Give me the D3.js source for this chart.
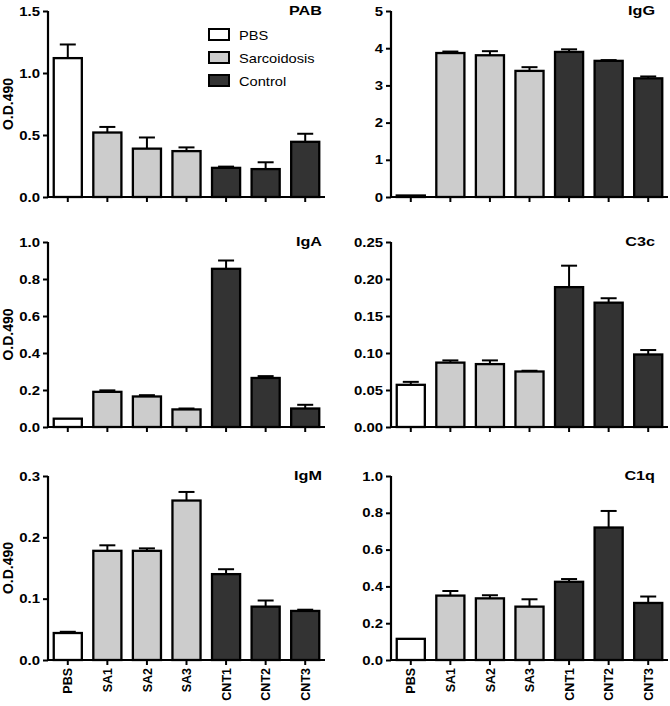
<!DOCTYPE html>
<html>
<head>
<meta charset="utf-8">
<script src="https://cdn.jsdelivr.net/npm/d3@7"></script>
<style>
  html, body { margin: 0; padding: 0; background: #fff; }
  svg { display: block; font-family: "Liberation Sans", Arial, Helvetica, sans-serif; }
</style>
</head>
<body>
<svg id="chart" width="670" height="706"></svg>
<script>
// ---- data ----
const categories = ["PBS", "SA1", "SA2", "SA3", "CNT1", "CNT2", "CNT3"];
const groupOf = ["PBS", "Sarcoidosis", "Sarcoidosis", "Sarcoidosis", "Control", "Control", "Control"];
const legendLabels = ["PBS", "Sarcoidosis", "Control"];

const pabMean = [1.12, 0.52, 0.39, 0.37, 0.235, 0.225, 0.445];
const pabSem  = [0.11, 0.045, 0.09, 0.03, 0.01, 0.055, 0.065];
const igGMean = [0.04, 3.87, 3.81, 3.39, 3.90, 3.66, 3.19];
const igGSem  = [0.0, 0.04, 0.11, 0.10, 0.07, 0.02, 0.05];
const igAMean = [0.045, 0.19, 0.165, 0.095, 0.855, 0.265, 0.10];
const igASem  = [0.0, 0.008, 0.007, 0.005, 0.045, 0.01, 0.02];
const c3cMean = [0.057, 0.087, 0.085, 0.075, 0.189, 0.168, 0.098];
const c3cSem  = [0.004, 0.003, 0.005, 0.001, 0.029, 0.006, 0.006];
const igMMean = [0.044, 0.178, 0.178, 0.26, 0.14, 0.087, 0.08];
const igMSem  = [0.002, 0.009, 0.004, 0.014, 0.008, 0.01, 0.002];
const c1qMean = [0.115, 0.35, 0.335, 0.29, 0.425, 0.72, 0.31];
const c1qSem  = [0.0, 0.025, 0.017, 0.04, 0.015, 0.09, 0.035];

const pabTicks = [0, 0.5, 1.0, 1.5];
const igGTicks = [0, 1, 2, 3, 4, 5];
const igATicks = [0, 0.2, 0.4, 0.6, 0.8, 1.0];
const c3cTicks = [0, 0.05, 0.10, 0.15, 0.20, 0.25];
const igMTicks = [0, 0.1, 0.2, 0.3];
const c1qTicks = [0, 0.2, 0.4, 0.6, 0.8, 1.0];

const yLabel = "O.D.490";

// ---- styles / layout ----
const fills = { "PBS": "#ffffff", "Sarcoidosis": "#cccccc", "Control": "#333333" };
const colX = [48, 391];          // y-axis positions
const bandWidth = 277;
const rows = [[11, 197], [242, 427], [476, 660]];
const titleRight = [322, 655];

const panels = [
  { title: "PAB", mean: pabMean, sem: pabSem, ticks: pabTicks, fmt: ".1f", col: 0, row: 0, yLab: true, legend: true },
  { title: "IgG", mean: igGMean, sem: igGSem, ticks: igGTicks, fmt: "d",   col: 1, row: 0 },
  { title: "IgA", mean: igAMean, sem: igASem, ticks: igATicks, fmt: ".1f", col: 0, row: 1, yLab: true },
  { title: "C3c", mean: c3cMean, sem: c3cSem, ticks: c3cTicks, fmt: ".2f", col: 1, row: 1 },
  { title: "IgM", mean: igMMean, sem: igMSem, ticks: igMTicks, fmt: ".1f", col: 0, row: 2, yLab: true, xLabels: true },
  { title: "C1q", mean: c1qMean, sem: c1qSem, ticks: c1qTicks, fmt: ".1f", col: 1, row: 2, xLabels: true }
];

const svg = d3.select("#chart");
const SX = 1.15; // horizontal text stretch seen in the reference

panels.forEach(p => {
  const x0 = colX[p.col];
  const [top, bottom] = rows[p.row];
  const x = d3.scaleBand().domain(categories).range([x0, x0 + bandWidth]).paddingInner(0.29).paddingOuter(0.145);
  const yMax = p.ticks[p.ticks.length - 1];
  const y = d3.scaleLinear().domain([0, yMax]).range([bottom, top]);
  const g = svg.append("g");

  const data = categories.map((c, i) => ({ c, m: p.mean[i], s: p.sem[i], grp: groupOf[i] }));

  // error bars (upper only)
  const capW = 16;
  data.forEach(d => {
    if (d.s > 0) {
      const cx = x(d.c) + x.bandwidth() / 2;
      g.append("line").attr("x1", cx).attr("x2", cx).attr("y1", y(d.m)).attr("y2", y(d.m + d.s))
        .attr("stroke", "#000").attr("stroke-width", 2);
      g.append("line").attr("x1", cx - capW / 2).attr("x2", cx + capW / 2).attr("y1", y(d.m + d.s)).attr("y2", y(d.m + d.s))
        .attr("stroke", "#000").attr("stroke-width", 2);
    }
  });

  // bars
  g.selectAll("rect.bar").data(data).join("rect").attr("class", "bar")
    .attr("x", d => x(d.c)).attr("width", x.bandwidth())
    .attr("y", d => y(d.m)).attr("height", d => y(0) - y(d.m))
    .attr("fill", d => fills[d.grp]).attr("stroke", "#000").attr("stroke-width", 2.3);

  // y axis
  const yAxis = d3.axisLeft(y).tickValues(p.ticks).tickSize(5).tickPadding(3)
    .tickFormat(p.fmt === "d" ? d3.format("d") : d3.format(p.fmt));
  const ya = g.append("g").attr("transform", `translate(${x0},0)`).call(yAxis);
  ya.select(".domain").attr("stroke", "#000").attr("stroke-width", 2.2).attr("d", `M0,${top}V${bottom}`);
  ya.selectAll(".tick line").attr("stroke", "#000").attr("stroke-width", 2);
  ya.selectAll(".tick text").attr("font-size", 13).attr("font-weight", "bold").attr("fill", "#000")
    .attr("font-family", '"Liberation Sans", Arial, sans-serif')
    .each(function () {
      const t = d3.select(this);
      const xx = +t.attr("x");
      t.attr("x", null).attr("transform", `translate(${xx},0) scale(${SX},1)`);
    });

  // x axis
  const xAxis = d3.axisBottom(x).tickSize(5).tickFormat("");
  const xa = g.append("g").attr("transform", `translate(0,${bottom})`).call(xAxis);
  xa.select(".domain").attr("stroke", "#000").attr("stroke-width", 2.2).attr("d", `M${x0},0H${x0 + bandWidth}`);
  xa.selectAll(".tick line").attr("stroke", "#000").attr("stroke-width", 2);

  if (p.xLabels) {
    categories.forEach(c => {
      const cx = x(c) + x.bandwidth() / 2;
      g.append("text").text(c)
        .attr("transform", `translate(${cx + 4.7},${bottom + 8}) rotate(-90)`)
        .attr("text-anchor", "end").attr("font-size", 12.5).attr("font-weight", "bold").attr("fill", "#000");
    });
  }

  // title
  g.append("text").text(p.title)
    .attr("transform", `translate(${titleRight[p.col]},${top + 4}) scale(1.2,1)`)
    .attr("text-anchor", "end").attr("font-size", 13.5).attr("font-weight", "bold").attr("fill", "#000");

  // y label
  if (p.yLab) {
    g.append("text").text(yLabel)
      .attr("transform", `translate(13,${(top + bottom) / 2}) rotate(-90)`)
      .attr("text-anchor", "middle").attr("font-size", 14).attr("font-weight", "bold").attr("fill", "#000");
  }

  // legend
  if (p.legend) {
    const lg = g.append("g");
    legendLabels.forEach((lab, i) => {
      const yy = 29 + i * 23;
      lg.append("rect").attr("x", 209).attr("y", yy).attr("width", 20).attr("height", 11)
        .attr("fill", fills[lab]).attr("stroke", "#000").attr("stroke-width", 2);
      lg.append("text").text(lab)
        .attr("transform", `translate(239,${yy + 10.5}) scale(1.22,1)`)
        .attr("font-size", 12).attr("fill", "#000");
    });
  }
});
</script>
</body>
</html>
